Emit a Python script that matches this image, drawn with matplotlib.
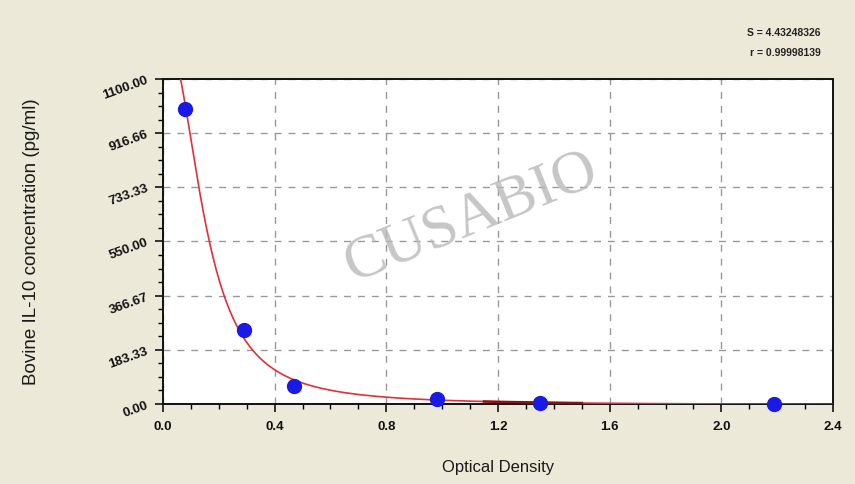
import numpy as np
import matplotlib.pyplot as plt
from matplotlib.ticker import MultipleLocator, FixedLocator

# standard points (OD, concentration pg/ml)
od = [0.08, 0.29, 0.47, 0.98, 1.35, 2.19]
conc = [1000, 250, 62.5, 15.6, 3.9, 0]

y_ticks = [0.00, 183.33, 366.67, 550.00, 733.33, 916.66, 1100.00]
y_tick_labels = ['0.00', '183.33', '366.67', '550.00', '733.33', '916.66', '1100.00']
x_ticks = [0.0, 0.4, 0.8, 1.2, 1.6, 2.0, 2.4]

# fitted curve parameters (4PL in OD)
A, D, C, B = 1250.0, -3.0, 0.15, 2.3


def curve(x):
    return D + (A - D) / (1 + (x / C) ** B)


plt.rcParams['font.family'] = ['Liberation Sans', 'DejaVu Sans']

fig = plt.figure(figsize=(8.55, 4.84), dpi=100)
fig.patch.set_facecolor('#ece9d8')
ax = fig.add_axes([0.1906, 0.1653, 0.7837, 0.6715])
ax.set_facecolor('white')

xs = np.linspace(0.03, 2.4, 600)
ax.plot(xs, curve(xs), color='#e0303a', lw=1.2, zorder=3)
xd = np.linspace(1.15, 1.5, 50)
ax.plot(xd, curve(xd), color='#8b1010', lw=1.8, zorder=3)

ax.plot(od, conc, 'o', color='#1a1ae6', ms=10, zorder=4, clip_on=False)

ax.set_xlim(0, 2.4)
ax.set_ylim(0, 1100)
ax.xaxis.set_major_locator(FixedLocator(x_ticks))
ax.xaxis.set_minor_locator(MultipleLocator(0.1))
ax.yaxis.set_major_locator(FixedLocator(y_ticks))
ax.yaxis.set_minor_locator(MultipleLocator(1100 / 24))
ax.set_xticklabels(['0.0', '0.4', '0.8', '1.2', '1.6', '2.0', '2.4'])
ax.set_yticklabels(y_tick_labels, rotation=20)

ax.tick_params(which='major', length=6, width=1.2, labelsize=9.5, colors='#111111')
ax.tick_params(which='minor', length=3.5, width=1.0)
ax.tick_params(axis='x', pad=6)
for lab in ax.get_xticklabels() + ax.get_yticklabels():
    lab.set_fontweight('bold')
for s in ax.spines.values():
    s.set_linewidth(1.4)
    s.set_color('#111111')

ax.grid(True, which='major', ls=(0, (5, 5)), color='#999999', lw=1)
ax.set_axisbelow(True)

ax.set_xlabel('Optical Density', fontsize=12, labelpad=20, color='#1a1a1a')
ax.set_ylabel('Bovine IL-10 concentration (pg/ml)', fontsize=13.5, labelpad=44,
              color='#1a1a1a')

# watermark
ax.text(0.46, 0.575, 'CUSABIO', transform=ax.transAxes, fontsize=44,
        family='Liberation Serif', color='#b8b8b8', alpha=0.8, rotation=22,
        ha='center', va='center', zorder=2)

fig.text(0.96, 0.925, 'S = 4.43248326', ha='right', fontsize=7.5,
         fontweight='bold', color='#222222')
fig.text(0.96, 0.885, 'r = 0.99998139', ha='right', fontsize=7.5,
         fontweight='bold', color='#222222')

fig.savefig('out.png', dpi=100, facecolor=fig.get_facecolor())
